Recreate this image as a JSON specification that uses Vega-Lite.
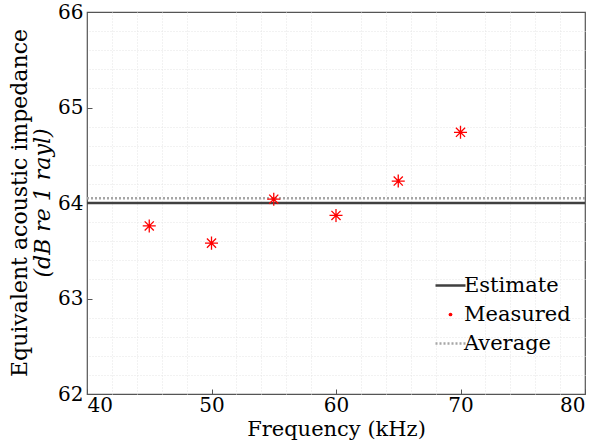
{
  "$schema": "https://vega.github.io/schema/vega-lite/v6.json",
  "width": 498,
  "height": 382,
  "autosize": "none",
  "padding": {"left": 87, "top": 12, "right": 15, "bottom": 49},
  "background": "white",
  "config": {
    "view": {"stroke": "#555555", "strokeWidth": 1.2},
    "axis": {"labelFont": "DejaVu Serif", "titleFont": "DejaVu Serif", "labelColor": "#000", "titleColor": "#000", "titleFontWeight": "normal"},
    "legend": {"labelFont": "DejaVu Serif"}
  },
  "title": {
    "text": "Equivalent acoustic impedance",
    "subtitle": "(dB re 1 rayl)",
    "orient": "left",
    "anchor": "middle",
    "font": "DejaVu Serif",
    "subtitleFont": "DejaVu Serif",
    "fontSize": 22,
    "subtitleFontSize": 22,
    "fontWeight": "normal",
    "subtitleFontStyle": "italic",
    "color": "#000",
    "subtitleColor": "#000",
    "offset": 3,
    "subtitlePadding": 1
  },
  "datasets": {
    "measured": [
      {"freq": 45, "z": 63.76, "series": "Measured"},
      {"freq": 50, "z": 63.58, "series": "Measured"},
      {"freq": 55, "z": 64.04, "series": "Measured"},
      {"freq": 60, "z": 63.87, "series": "Measured"},
      {"freq": 65, "z": 64.23, "series": "Measured"},
      {"freq": 70, "z": 64.74, "series": "Measured"}
    ],
    "lines": [
      {"z": 64.0, "series": "Estimate"},
      {"z": 64.05, "series": "Average"}
    ]
  },
  "layer": [
    {
      "data": {"name": "measured"},
      "mark": {"type": "point", "opacity": 0},
      "encoding": {
        "x": {"field": "freq", "type": "quantitative", "scale": {"domain": [40, 80], "nice": false, "zero": false},
          "axis": {"orient": "top", "values": [42,44,46,48,52,54,56,58,62,64,66,68,72,74,76,78], "labels": false, "ticks": false, "domain": false, "title": null, "gridColor": "#e4e4e4", "gridDash": [1, 2], "gridWidth": 1}},
        "y": {"field": "z", "type": "quantitative", "scale": {"domain": [62, 66], "nice": false, "zero": false},
          "axis": {"orient": "right", "values": [62.2,62.4,62.6,62.8,63.2,63.4,63.6,63.8,64.2,64.4,64.6,64.8,65.2,65.4,65.6,65.8], "labels": false, "ticks": false, "domain": false, "title": null, "gridColor": "#e4e4e4", "gridDash": [1, 2], "gridWidth": 1}}
      }
    },
    {
      "data": {"name": "lines"},
      "mark": {"type": "rule", "strokeWidth": 2.5},
      "encoding": {
        "y": {"field": "z", "type": "quantitative", "axis": null},
        "color": {"field": "series", "type": "nominal",
          "scale": {"domain": ["Estimate", "Measured", "Average"], "range": ["#404040", "#ff0000", "#a6a6a6"]},
          "legend": {
            "orient": "none", "legendX": 353, "legendY": 263, "title": null, "padding": 0,
            "labelFont": "DejaVu Serif", "labelFontSize": 21, "labelColor": "#000", "labelOffset": 3,
            "rowPadding": 7, "symbolStrokeWidth": 2.5, "symbolSize": 900,
            "encode": {"symbols": {"update": {
              "shape": {"signal": "datum.value === 'Measured' ? 'circle' : 'stroke'"},
              "size": {"signal": "datum.value === 'Measured' ? 14 : 900"},
              "fill": {"signal": "datum.value === 'Measured' ? '#ff0000' : 'transparent'"},
              "strokeWidth": {"signal": "datum.value === 'Measured' ? 0 : 2.5"},
              "strokeDash": {"signal": "datum.value === 'Average' ? [2, 2] : [1, 0]"}
            }}}
          }},
        "strokeDash": {"field": "series", "type": "nominal",
          "scale": {"domain": ["Estimate", "Measured", "Average"], "range": [[1, 0], [1, 0], [2, 2]]}, "legend": null}
      }
    },
    {
      "data": {"name": "measured"},
      "mark": {"type": "point", "filled": false, "strokeWidth": 1.3, "size": 170, "opacity": 1,
        "shape": "M-1,0L1,0M0,-1L0,1M-0.7,-0.7L0.7,0.7M-0.7,0.7L0.7,-0.7"},
      "encoding": {
        "x": {"field": "freq", "type": "quantitative",
          "axis": {"orient": "bottom", "values": [40, 50, 60, 70, 80], "title": "Frequency (kHz)", "titleFontSize": 21, "titlePadding": 3, "labelFontSize": 20, "tickSize": -5, "tickColor": "#555", "labelPadding": 6, "domain": false, "gridColor": "#dcdcdc", "gridWidth": 1}},
        "y": {"field": "z", "type": "quantitative",
          "axis": {"orient": "left", "values": [62, 63, 64, 65, 66], "title": null, "labelFontSize": 20, "tickSize": -5, "tickColor": "#555", "labelPadding": 9, "domain": false, "gridColor": "#dcdcdc", "gridWidth": 1}},
        "color": {"field": "series", "type": "nominal"}
      }
    }
  ],
  "resolve": {"axis": {"x": "independent", "y": "independent"}}
}
